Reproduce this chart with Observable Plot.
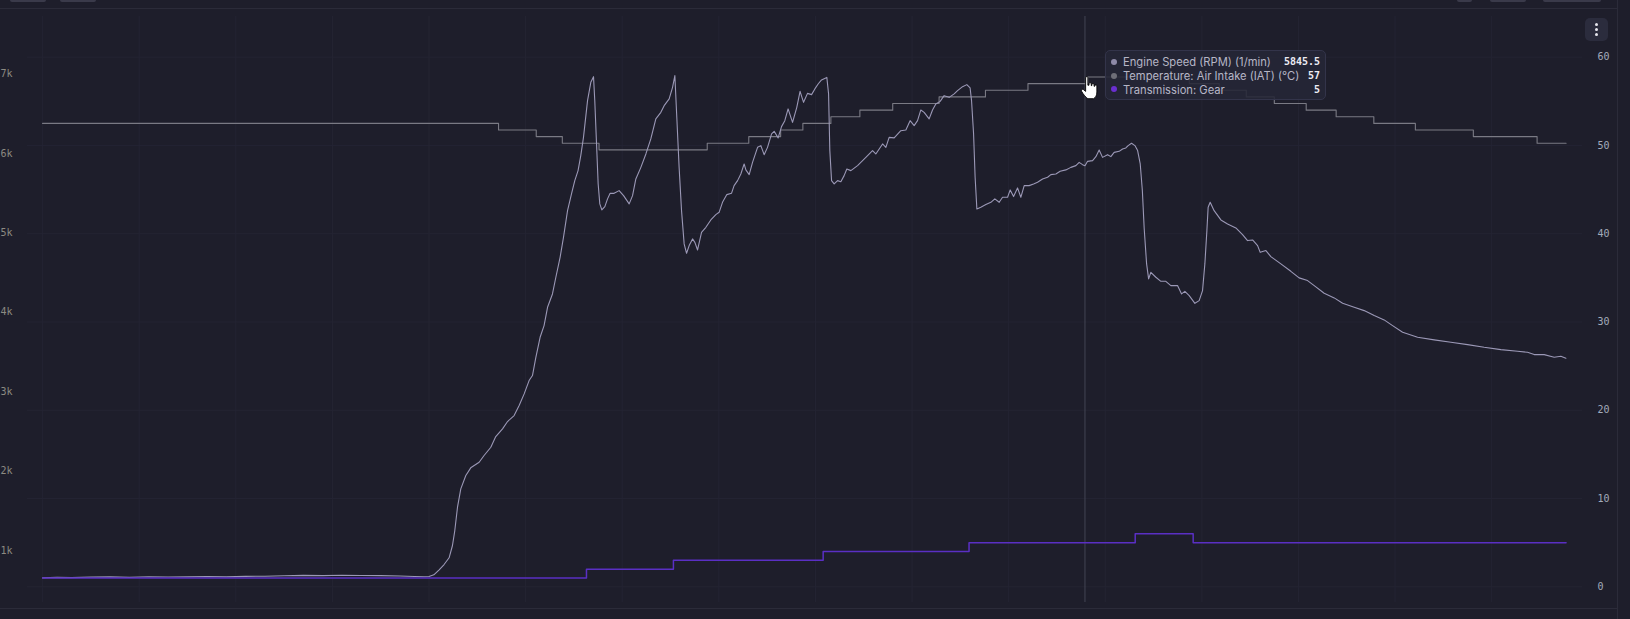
<!DOCTYPE html>
<html>
<head>
<meta charset="utf-8">
<script src="https://cdn.jsdelivr.net/npm/d3@7"></script>
<script src="https://cdn.jsdelivr.net/npm/@observablehq/plot@0.6"></script>
<style>
  html, body { margin: 0; padding: 0; background: #1e1e2b; width: 1630px; height: 619px; overflow: hidden; }
  #wrap { position: relative; width: 1630px; height: 619px; }
  #chart { position: absolute; left: 0; top: 0; }
  .hline { position: absolute; height: 1px; background: #2b2b39; }
  .vline { position: absolute; width: 1px; background: #2b2b39; }
  .tb { position: absolute; top: 0; height: 2px; background: #3a3a4a; border-radius: 0 0 2px 2px; }
  #menu { position: absolute; left: 1585px; top: 18px; width: 23px; height: 23px; background: #2b2c3d; border-radius: 5px; }
  #menu span { position: absolute; left: 10px; width: 3px; height: 3px; border-radius: 50%; background: #e6e6ee; }
  #tip { position: absolute; left: 1105px; top: 50px; width: 221px; height: 50px; box-sizing: border-box;
         background: rgba(38, 39, 55, 0.88); border: 1px solid #33344a; border-radius: 5px; padding: 4px 5px 0 5px;
         font-family: Inter, "Noto Sans", sans-serif; font-size: 11.2px; color: #b6b6c6; }
  .row { display: flex; align-items: center; height: 13.8px; }
  .dot { width: 6px; height: 6px; border-radius: 50%; margin-right: 6px; flex: none; }
  .lab { flex: 1; white-space: nowrap; }
  .val { font-family: "DejaVu Sans Mono", monospace; font-weight: bold; font-size: 10px; color: #ececf4; }
  #cursor { position: absolute; left: 1080px; top: 76px; }
</style>
</head>
<body>
<div id="wrap">
  <div id="chart"></div>
  <div class="tb" style="left:10px;width:36px"></div>
  <div class="tb" style="left:60px;width:36px"></div>
  <div class="tb" style="left:1457px;width:15px"></div>
  <div class="tb" style="left:1490px;width:36px"></div>
  <div class="tb" style="left:1543px;width:58px"></div>
  <div class="hline" style="left:0;top:8px;width:1618px"></div>
  <div class="hline" style="left:0;top:608px;width:1618px"></div>
  <div class="vline" style="left:1617px;top:0;height:619px"></div>
  <div id="menu"><span style="top:5px"></span><span style="top:10px"></span><span style="top:15px"></span></div>
  <div id="tip"></div>
  <svg id="cursor" width="18" height="24" viewBox="0 0 16 21">
    <path d="M5,1.2 C5,0.2 7,0.2 7,1.2 L7,8 L8,8 L8,6.6 C8,5.6 10,5.6 10,6.6 L10,8.4 L10.5,8.4 L10.5,7.4 C10.5,6.4 12.5,6.4 12.5,7.4 L12.5,9 L13,9 L13,8.6 C13,7.6 15,7.6 15,8.6 L15,14 C15,17 14,19 12,20 L7,20 C5.2,19 3,16.2 1.5,13.6 C0.8,12.3 2,11 3.2,12 L5,13.5 Z"
          fill="#ffffff" stroke="#000000" stroke-width="0.8" stroke-linejoin="round"/>
  </svg>
</div>
<script>
// ---------------- data (time in seconds) ----------------
const rpmTime = [0,1.5,3,5,7,9,11,13,15,17,19,21,23,25,27,29,31,33,35,37,38.5,39.5,
  40.0,40.5,41.05,41.56,42.08,42.43,42.67,42.95,43.29,43.81,44.32,45.19,45.7,46.4,46.91,47.61,48.13,48.81,49.33,49.85,50.36,50.71,51.06,51.5,51.91,52.27,52.78,53.13,53.57,53.92,54.34,54.75,55.09,55.43,55.71,55.99,56.41,56.75,57.03,57.16,57.37,57.51,57.68,57.89,58.2,58.48,58.75,59.16,59.68,60.14,60.72,61.07,61.41,61.93,62.45,62.96,63.48,64.0,64.34,64.86,65.21,65.45,65.65,65.89,66.14,66.41,66.66,66.93,67.28,67.52,67.8,68.21,68.66,69.17,69.69,70.03,70.38,70.83,71.31,71.58,71.94,72.28,72.62,72.8,73.14,73.49,74.01,74.35,74.69,75.04,75.46,75.73,76.14,76.49,76.83,77.17,77.63,78.07,78.41,78.77,79.18,79.6,79.94,80.28,80.63,81.18,81.36,81.49,81.67,81.94,82.29,82.63,82.97,83.25,83.67,84.36,85.22,85.91,86.25,86.95,87.29,87.63,88.15,88.84,89.36,89.8,90.22,90.57,90.91,91.25,91.77,92.12,92.46,92.91,93.32,93.84,94.36,94.71,95.23,95.67,96.01,96.16,96.37,96.53,96.71,97.12,97.64,98.16,98.57,99.02,99.37,99.89,100.16,100.51,100.92,101.26,101.61,102.12,102.58,102.99,103.51,104.03,104.37,104.89,105.33,105.92,106.44,106.96,107.3,107.65,107.9,108.17,108.69,109.03,109.37,109.72,110.24,110.58,110.92,111.44,111.79,112.13,112.37,112.72,113.07,113.35,113.62,113.84,114.03,114.28,114.49,114.72,115.24,115.76,116.27,116.79,117.48,117.9,118.24,118.69,119.28,119.72,120.07,120.31,120.52,120.65,120.86,121.27,121.97,122.66,123.52,124.21,124.73,125.25,125.77,126.04,126.63,127.14,128.18,129.21,130.07,130.94,131.63,132.66,133.7,134.57,135.77,136.8,137.84,138.87,139.74,140.78,142.33,144.05,145.78,147.5,149.22,150.95,152.68,153.71,154.4,155.43,156.47,157.16,157.68];
const rpmValue = [655,662,658,664,668,662,670,666,668,672,668,674,676,682,686,684,688,685,683,678,672,670,
  672,694,757,823,908,1063,1251,1545,1776,1944,2041,2111,2196,2300,2435,2532,2624,2699,2825,2972,3140,3203,3433,3685,3832,4063,4231,4441,4692,4944,5280,5491,5658,5784,5973,6203,6665,6896,6967,6665,6036,5616,5365,5289,5331,5428,5498,5498,5532,5469,5365,5469,5679,5825,5994,6183,6435,6518,6602,6687,6833,6980,6455,5825,5280,4861,4743,4840,4924,4881,4785,5007,5070,5163,5230,5259,5385,5482,5498,5595,5658,5742,5868,5793,5734,5888,6077,6099,5985,6077,6246,6279,6196,6338,6413,6561,6392,6581,6782,6644,6757,6741,6813,6875,6926,6958,6750,6036,5658,5616,5658,5645,5721,5805,5784,5847,5951,6036,5994,6120,6077,6203,6196,6287,6296,6413,6350,6413,6548,6518,6435,6548,6624,6656,6728,6707,6750,6791,6841,6867,6825,6665,6246,5700,5302,5322,5356,5385,5428,5385,5448,5448,5541,5457,5566,5448,5595,5595,5616,5637,5679,5700,5734,5742,5775,5793,5825,5847,5888,5859,5845.5,5901,5910,5960,6044,5951,5985,5960,6014,6027,6057,6070,6099,6128,6099,6036,5868,5532,5054,4609,4420,4503,4441,4390,4390,4336,4336,4231,4264,4210,4113,4147,4273,4609,5028,5322,5385,5280,5163,5113,5062,4978,4903,4911,4840,4755,4777,4701,4609,4516,4433,4399,4336,4239,4181,4113,4063,4021,3958,3904,3832,3748,3685,3652,3622,3593,3559,3530,3509,3496,3467,3467,3433,3446,3421];

const iatTime  = [0,47.2,51.1,53.8,57.6,68.8,73.1,76.4,78.7,81.6,84.6,88.0,92.8,97.6,102.0,108.2,118.7,121.8,124.6,127.5,130.8,133.9,137.8,142.1,148.1,154.7,157.7];
const iatValue = [52.5,51.75,51,50.25,49.5,50.25,51,51.75,52.5,53.25,54,54.75,55.5,56.25,57,57.75,57,56.25,55.5,54.75,54,53.25,52.5,51.75,51,50.25,50.25];

const gearTime  = [0,56.3,65.3,80.8,95.9,113.1,119.1,157.7];
const gearValue = [1,2,3,4,5,6,5,5];

const leftTicks  = [1000,2000,3000,4000,5000,6000,7000];
const rightTicks = [0,10,20,30,40,50,60];
const timeTicks  = [0,10,20,30,40,50,60,70,80,90,100,110,120,130,140,150];

const cursorTime = 107.9;
const seriesNames = ["Engine Speed (RPM) (1/min)", "Temperature: Air Intake (IAT) (°C)", "Transmission: Gear"];
const seriesColors = ["#9b98b6", "#7a7a84", "#5a2fc4"];
const dotColors = ["#8e8aa8", "#6e6e78", "#6a2fd0"];

// ---------------- build ----------------
const rpm  = rpmTime.map((t, i) => ({t, v: rpmValue[i]}));
const iat  = iatTime.map((t, i) => ({t, v: iatValue[i]}));
const gear = gearTime.map((t, i) => ({t, v: gearValue[i]}));

// secondary (right) axis mapped into the primary rpm scale
const right = d3.scaleLinear().domain([0, 60]).range([542.6, 7212.8]);

const chart = Plot.plot({
  width: 1630,
  height: 619,
  marginLeft: 27,
  marginRight: 48,
  marginTop: 16,
  marginBottom: 17,
  style: {background: "transparent", overflow: "visible"},
  x: {domain: [-1.56, 159.4], axis: null},
  y: {domain: [345, 7725]},
  marks: [
    Plot.gridX(timeTicks, {stroke: "#242433", strokeOpacity: 1}),
    Plot.gridY(rightTicks, {y: right, stroke: "#242433", strokeOpacity: 1}),
    Plot.axisY(leftTicks, {anchor: "left", tickSize: 0, tickPadding: 15, label: null,
      tickFormat: d => d / 1000 + "k", color: "#8c8a82", fontFamily: "DejaVu Sans Mono", fontSize: 10}),
    Plot.axisY(rightTicks, {y: right, anchor: "right", tickSize: 0, tickPadding: 15, label: null,
      tickFormat: d => String(d), color: "#a3abbb", fontFamily: "DejaVu Sans Mono", fontSize: 10}),
    Plot.ruleX([cursorTime], {stroke: "#434454", strokeWidth: 1}),
    Plot.line(iat, {x: "t", y: d => right(d.v), curve: "step-after", stroke: seriesColors[1], strokeWidth: 1.1}),
    Plot.line(rpm, {x: "t", y: "v", stroke: seriesColors[0], strokeWidth: 1.1}),
    Plot.line(gear, {x: "t", y: d => right(d.v), curve: "step-after", stroke: seriesColors[2], strokeWidth: 1.5})
  ]
});
document.getElementById("chart").appendChild(chart);

// tooltip values read from the series at the cursor time
function stepAt(times, values, t) { const i = d3.bisectRight(times, t) - 1; return values[Math.max(0, i)]; }
const rpmAt = rpmValue[rpmTime.indexOf(cursorTime)];
const vals = [rpmAt.toFixed(1), String(Math.round(stepAt(iatTime, iatValue, cursorTime))), String(stepAt(gearTime, gearValue, cursorTime))];
const tip = document.getElementById("tip");
seriesNames.forEach((name, i) => {
  const row = document.createElement("div");
  row.className = "row";
  row.innerHTML = `<span class="dot" style="background:${dotColors[i]}"></span><span class="lab"></span><span class="val"></span>`;
  row.querySelector(".lab").textContent = name;
  row.querySelector(".val").textContent = vals[i];
  tip.appendChild(row);
});
</script>
</body>
</html>
